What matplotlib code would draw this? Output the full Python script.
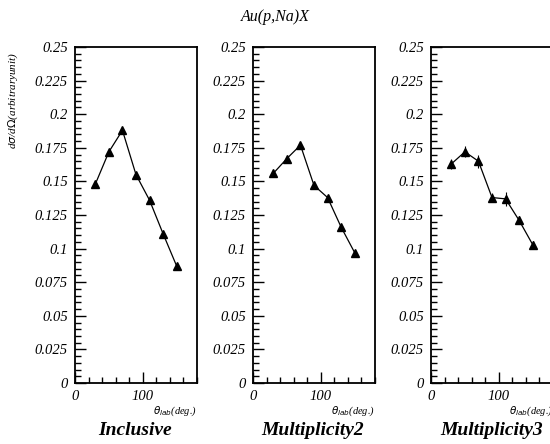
import numpy as np
import matplotlib.pyplot as plt
from matplotlib.ticker import MultipleLocator, FuncFormatter

angles = [30, 50, 70, 90, 110, 130, 150]
inclusive = [0.148, 0.172, 0.188, 0.155, 0.136, 0.111, 0.087]
mult2 = [0.156, 0.167, 0.177, 0.147, 0.138, 0.116, 0.097]
mult3 = [0.163, 0.172, 0.165, 0.138, 0.137, 0.121, 0.103]
mult3_err = [0.004, 0.004, 0.005, 0.003, 0.005, 0.003, 0.003]
panel_names = ['Inclusive', 'Multiplicity2', 'Multiplicity3']

plt.rcParams['font.family'] = ['Liberation Serif', 'DejaVu Serif']

fig = plt.figure(figsize=(5.5, 4.44), dpi=100)
lefts = [75 / 550, 253 / 550, 431 / 550]
w = 122 / 550
b = 61 / 444
h = 336 / 444

series = [(inclusive, None), (mult2, None), (mult3, mult3_err)]


def yfmt(v, pos):
    s = ('%.3f' % v).rstrip('0').rstrip('.')
    return s


for i, (vals, err) in enumerate(series):
    ax = fig.add_axes([lefts[i], b, w, h])
    if err is None:
        ax.plot(angles, vals, '-', color='black', lw=0.9,
                marker='^', ms=5.5, mfc='black', mec='black')
    else:
        ax.errorbar(angles, vals, yerr=err, fmt='-', color='black', lw=0.9,
                    elinewidth=0.8, capsize=0,
                    marker='^', ms=5.5, mfc='black', mec='black')
    ax.set_xlim(0, 180)
    ax.set_ylim(0, 0.25)
    ax.yaxis.set_major_locator(MultipleLocator(0.025))
    ax.yaxis.set_minor_locator(MultipleLocator(0.005))
    ax.xaxis.set_major_locator(MultipleLocator(100))
    ax.xaxis.set_minor_locator(MultipleLocator(20))
    ax.yaxis.set_major_formatter(FuncFormatter(yfmt))
    ax.tick_params(which='both', direction='in', top=False, right=False,
                   labelsize=10.5, width=1)
    ax.tick_params(which='major', length=8)
    ax.tick_params(which='minor', length=4)
    ax.tick_params(axis='x', pad=5)
    ax.tick_params(axis='y', pad=5)
    for lab in ax.get_xticklabels() + ax.get_yticklabels():
        lab.set_style('italic')
    for sp in ax.spines.values():
        sp.set_linewidth(1.3)
    ax.set_xlabel(r'$\theta_{lab}$(deg.)', fontsize=7.5, style='italic',
                  loc='right', labelpad=1)
    if i == 0:
        ax.set_ylabel(r'd$\sigma$/d$\Omega$(arbitraryunit)', fontsize=8,
                      style='italic', labelpad=4)
        ax.yaxis.set_label_coords(-0.45, 0.84)

for cx, name in zip([135, 313, 492], panel_names):
    fig.text(cx / 550, 1 - 430 / 444, name, ha='center', va='center',
             fontsize=14, style='italic', weight='bold')
fig.text(275 / 550, 1 - 17 / 444, 'Au(p,Na)X', ha='center', va='center',
         fontsize=11.5, style='italic')

fig.savefig('out.png', dpi=100)
